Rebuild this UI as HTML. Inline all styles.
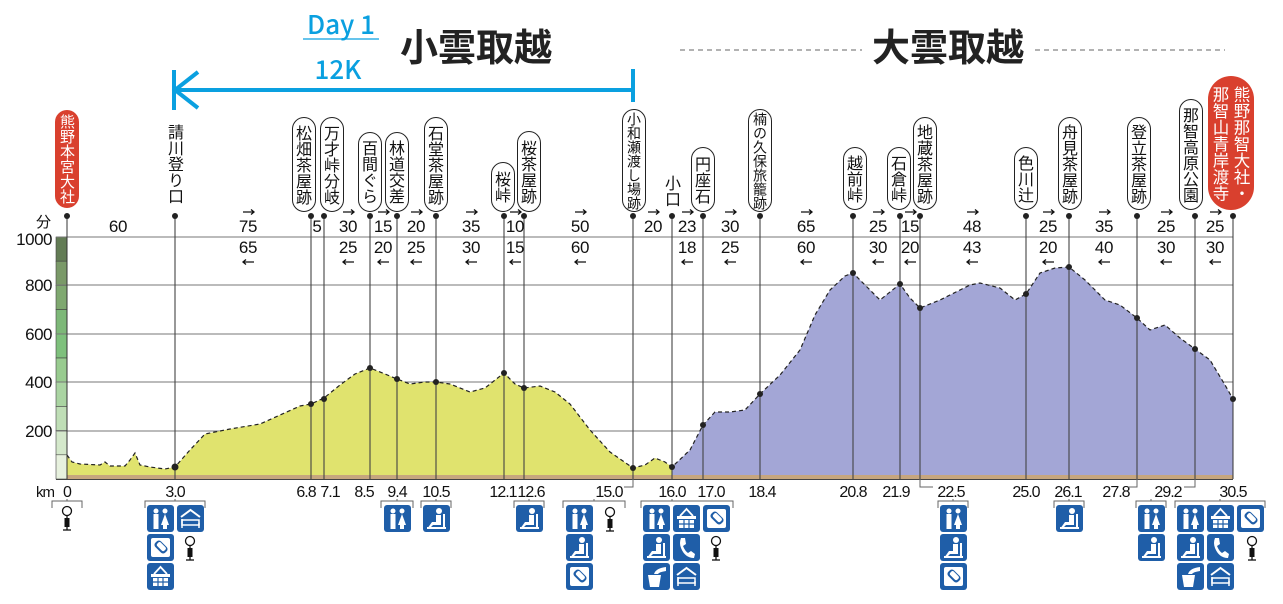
<!DOCTYPE html>
<html><head><meta charset="utf-8">
<style>
html,body{margin:0;padding:0;background:#fff}
#w{position:relative;width:1283px;height:604px;overflow:hidden;font-family:"Liberation Sans","Noto Sans CJK JP",sans-serif}
svg{position:absolute;left:0;top:0}
.p{position:absolute;writing-mode:vertical-rl;text-orientation:upright;border:1.3px solid #222;border-radius:12px;background:#fff;font-family:"Noto Sans CJK JP",sans-serif;font-size:16px;line-height:22px;width:24px;box-sizing:border-box;display:flex;align-items:center;justify-content:center;color:#111}
.r{background:#d9402e;border-color:#d9402e;color:#fff}
.t{position:absolute;writing-mode:vertical-rl;text-orientation:upright;font-family:"Noto Sans CJK JP",sans-serif;font-size:16px;line-height:22px;width:24px;color:#111;text-align:center}
.col{position:absolute;writing-mode:vertical-rl;text-orientation:upright;font-family:"Noto Sans CJK JP",sans-serif;font-size:16.5px;line-height:20px;color:#fff;width:20px}
</style></head><body><div id="w">
<svg width="1283" height="604" viewBox="0 0 1283 604" font-family="Liberation Sans, sans-serif">
<defs>
<g id="wc"><rect width="27" height="27" rx="3" fill="#1f5ea8"/><circle cx="9" cy="6" r="2.5" fill="#fff"/><circle cx="18" cy="6" r="2.5" fill="#fff"/><rect x="6.5" y="9" width="5" height="15" fill="#fff"/><path d="M18 9 L22 20 L14 20 Z" fill="#fff"/><rect x="16" y="19" width="4" height="5" fill="#fff"/></g>
<g id="bed"><rect width="27" height="27" rx="3" fill="#1f5ea8"/><path d="M4 12 L13.5 5 L23 12" stroke="#fff" stroke-width="2" fill="none"/><rect x="5" y="15" width="17" height="5" fill="none" stroke="#fff" stroke-width="1.5"/><line x1="5" y1="14" x2="5" y2="23" stroke="#fff" stroke-width="1.5"/><line x1="22" y1="18" x2="22" y2="23" stroke="#fff" stroke-width="1.5"/></g>
<g id="card"><rect width="27" height="27" rx="3" fill="#1f5ea8"/><rect x="4" y="4" width="19" height="19" rx="2" fill="#fff"/><rect x="7" y="9" width="14" height="8" rx="3" transform="rotate(45 14 13)" fill="#1f5ea8"/><rect x="9" y="10" width="10" height="5" rx="2" transform="rotate(45 14 13)" fill="#fff"/></g>
<g id="bask"><rect width="27" height="27" rx="3" fill="#1f5ea8"/><path d="M7 11 L13.5 4 L20 11" stroke="#fff" stroke-width="1.8" fill="none"/><rect x="4" y="11" width="19" height="3" fill="#fff"/><rect x="6" y="15" width="15" height="8" fill="#fff"/><path d="M11 15V23M16 15V23M6 19H21" stroke="#1f5ea8" stroke-width="1.2"/></g>
<g id="rest"><rect width="27" height="27" rx="3" fill="#1f5ea8"/><circle cx="16" cy="6" r="3" fill="#fff"/><path d="M13 10 H18 V20 H10 L6 24 H4 L9 17 H13 Z" fill="#fff"/><rect x="20" y="9" width="2" height="15" fill="#fff"/><rect x="4" y="22" width="19" height="2" fill="#fff"/></g>
<g id="tel"><rect width="27" height="27" rx="3" fill="#1f5ea8"/><path d="M8 4 L12 4 L13 10 L10 12 Q12 17 15 19 L18 17 L22 20 L21 24 Q12 24 8 14 Q6 9 8 4Z" fill="#fff"/></g>
<g id="wat"><rect width="27" height="27" rx="3" fill="#1f5ea8"/><path d="M5 12 H18 L16 24 H7 Z" fill="#fff"/><path d="M11 11 Q13 5 23 4 V8 Q16 9 15 11 Z" fill="#fff"/></g>
<g id="pole"><circle cx="6" cy="5" r="4.5" fill="#fff" stroke="#111" stroke-width="1.3"/><line x1="6" y1="9.5" x2="6" y2="24" stroke="#111" stroke-width="1.3"/><rect x="3.5" y="12" width="5" height="9" fill="#111"/><line x1="2" y1="24" x2="10" y2="24" stroke="#111" stroke-width="1.3"/></g>
</defs>

<text x="341" y="34" font-family="Noto Sans CJK JP, sans-serif" font-weight="500" font-size="26" fill="#0aa0e0" text-anchor="middle">Day 1</text>
<line x1="303" y1="39" x2="379" y2="39" stroke="#0aa0e0" stroke-width="1.2"/>
<text x="338" y="79" font-family="Noto Sans CJK JP, sans-serif" font-weight="500" font-size="26" fill="#0aa0e0" text-anchor="middle">12K</text>
<text x="476" y="61" font-family="Noto Sans CJK JP, sans-serif" font-weight="bold" font-size="38" fill="#222" text-anchor="middle">小雲取越</text>
<text x="948" y="61" font-family="Noto Sans CJK JP, sans-serif" font-weight="bold" font-size="38" fill="#222" text-anchor="middle">大雲取越</text>
<line x1="680" y1="50" x2="862" y2="50" stroke="#666" stroke-width="1" stroke-dasharray="5,4"/>
<line x1="1035" y1="50" x2="1225" y2="50" stroke="#666" stroke-width="1" stroke-dasharray="5,4"/>
<line x1="174" y1="90" x2="633" y2="90" stroke="#0aa0e0" stroke-width="4"/>
<line x1="633" y1="69" x2="633" y2="102" stroke="#0aa0e0" stroke-width="4"/>
<path d="M198 72 L175 90 L198 108" stroke="#0aa0e0" stroke-width="4" fill="none"/>
<line x1="174" y1="70" x2="174" y2="110" stroke="#0aa0e0" stroke-width="4"/>

<g stroke="#444" stroke-width="0.6">
<rect x="56" y="237" width="11" height="24.2" fill="#637c55"/>
<rect x="56" y="261.2" width="11" height="24.2" fill="#7a9968"/>
<rect x="56" y="285.4" width="11" height="24.2" fill="#7fa870"/>
<rect x="56" y="309.6" width="11" height="24.2" fill="#7db878"/>
<rect x="56" y="333.8" width="11" height="24.2" fill="#7ec07c"/>
<rect x="56" y="358" width="11" height="24.2" fill="#98cb8f"/>
<rect x="56" y="382.2" width="11" height="24.2" fill="#aad4a2"/>
<rect x="56" y="406.4" width="11" height="24.2" fill="#bfdeb6"/>
<rect x="56" y="430.6" width="11" height="24.2" fill="#d4e8cb"/>
<rect x="56" y="454.8" width="11" height="24.2" fill="#e7f1de"/>
</g>
<g stroke="#777" stroke-width="1">
<line x1="56" y1="237" x2="1233" y2="237"/>
<line x1="56" y1="285" x2="1233" y2="285"/>
<line x1="56" y1="334" x2="1233" y2="334"/>
<line x1="56" y1="382" x2="1233" y2="382"/>
<line x1="56" y1="431" x2="1233" y2="431"/>
</g>
<g font-size="17" fill="#111" text-anchor="end" letter-spacing="-0.5">
<text x="52" y="245">1000</text><text x="52" y="291">800</text><text x="52" y="340">600</text><text x="52" y="388">400</text><text x="52" y="437">200</text>
</g>
<text x="51" y="227" font-family="Noto Sans CJK JP, sans-serif" font-size="15" text-anchor="end" fill="#111">分</text>
<text x="54" y="497" font-size="15" text-anchor="end" fill="#111" letter-spacing="-1">km</text>

<polygon fill="#e0e36e" points="67,479 67,455 72,462 80,464 100,465 105,462 110,466 125,466 130,460 135,453 140,465 150,467 165,469 175,467 190,450 205,434 230,429 260,424 280,415 300,406 311,404 324,398 340,385 355,374 370,368 385,374 397,379 410,384 425,382 436,382 450,384 470,392 485,388 504,373 515,384 524,388 540,386 555,392 570,404 590,430 610,452 633,468 645,465 655,458 665,462 672,467 672,479"/>
<polygon fill="#a3a6d6" points="672,479 672,467 690,450 703,425 715,412 730,412 745,410 760,394 780,375 800,350 815,315 830,290 845,276 853,273 865,285 880,300 900,284 910,298 920,308 940,300 970,285 980,283 1000,288 1015,300 1026,294 1040,273 1055,268 1069,267 1085,280 1105,300 1120,305 1137,318 1150,330 1165,325 1180,338 1195,349 1210,360 1225,385 1233,399 1233,479"/>
<polyline fill="none" stroke="#222" stroke-width="1.2" stroke-dasharray="4,3" points="67,455 72,462 80,464 100,465 105,462 110,466 125,466 130,460 135,453 140,465 150,467 165,469 175,467 190,450 205,434 230,429 260,424 280,415 300,406 311,404 324,398 340,385 355,374 370,368 385,374 397,379 410,384 425,382 436,382 450,384 470,392 485,388 504,373 515,384 524,388 540,386 555,392 570,404 590,430 610,452 633,468 645,465 655,458 665,462 672,467 690,450 703,425 715,412 730,412 745,410 760,394 780,375 800,350 815,315 830,290 845,276 853,273 865,285 880,300 900,284 910,298 920,308 940,300 970,285 980,283 1000,288 1015,300 1026,294 1040,273 1055,268 1069,267 1085,280 1105,300 1120,305 1137,318 1150,330 1165,325 1180,338 1195,349 1210,360 1225,385 1233,399"/>
<rect x="67" y="475" width="1166" height="4" fill="#c6a67e"/>
<line x1="56" y1="479.5" x2="1233" y2="479.5" stroke="#444" stroke-width="1"/>
<line x1="67" y1="217" x2="67" y2="479" stroke="#333" stroke-width="1"/>
<line x1="1233" y1="217" x2="1233" y2="479" stroke="#333" stroke-width="1"/>

<g stroke="#444" stroke-width="1.1">
<line x1="175" y1="217" x2="175" y2="479"/><line x1="311" y1="217" x2="311" y2="479"/><line x1="324" y1="217" x2="324" y2="479"/><line x1="370" y1="217" x2="370" y2="479"/><line x1="397" y1="217" x2="397" y2="479"/><line x1="436" y1="217" x2="436" y2="479"/><line x1="504" y1="217" x2="504" y2="479"/><line x1="524" y1="217" x2="524" y2="479"/><line x1="633" y1="217" x2="633" y2="479"/><line x1="672" y1="217" x2="672" y2="479"/><line x1="703" y1="217" x2="703" y2="479"/><line x1="760" y1="217" x2="760" y2="479"/><line x1="853" y1="217" x2="853" y2="479"/><line x1="900" y1="217" x2="900" y2="479"/><line x1="920" y1="217" x2="920" y2="479"/><line x1="1026" y1="217" x2="1026" y2="479"/><line x1="1069" y1="217" x2="1069" y2="479"/><line x1="1137" y1="217" x2="1137" y2="479"/><line x1="1195" y1="217" x2="1195" y2="479"/>
</g>
<g fill="#222">
<circle cx="67" cy="216" r="3"/><circle cx="175" cy="216" r="3"/><circle cx="311" cy="216" r="3"/><circle cx="324" cy="216" r="3"/><circle cx="370" cy="216" r="3"/><circle cx="397" cy="216" r="3"/><circle cx="436" cy="216" r="3"/><circle cx="504" cy="216" r="3"/><circle cx="524" cy="216" r="3"/><circle cx="633" cy="216" r="3"/><circle cx="672" cy="216" r="3"/><circle cx="703" cy="216" r="3"/><circle cx="760" cy="216" r="3"/><circle cx="853" cy="216" r="3"/><circle cx="900" cy="216" r="3"/><circle cx="920" cy="216" r="3"/><circle cx="1026" cy="216" r="3"/><circle cx="1069" cy="216" r="3"/><circle cx="1137" cy="216" r="3"/><circle cx="1195" cy="216" r="3"/><circle cx="1233" cy="216" r="3"/>
<circle cx="175" cy="467" r="3.5"/><circle cx="311" cy="404" r="3"/><circle cx="324" cy="399" r="3"/><circle cx="370" cy="368" r="3"/><circle cx="397" cy="379" r="3"/><circle cx="436" cy="382" r="3"/><circle cx="504" cy="373" r="3"/><circle cx="524" cy="388" r="3"/><circle cx="633" cy="468" r="3"/><circle cx="672" cy="467" r="3"/><circle cx="703" cy="425" r="3"/><circle cx="760" cy="394" r="3"/><circle cx="853" cy="273" r="3"/><circle cx="900" cy="284" r="3"/><circle cx="920" cy="308" r="3"/><circle cx="1026" cy="294" r="3"/><circle cx="1069" cy="267" r="3"/><circle cx="1137" cy="318" r="3"/><circle cx="1195" cy="349" r="3"/><circle cx="1233" cy="399" r="3"/>
</g>

<g font-size="17" fill="#111" text-anchor="middle" letter-spacing="-0.3">
<text x="118" y="232">60</text><text x="248" y="232">75</text><text x="317" y="232">5</text><text x="348" y="232">30</text><text x="383" y="232">15</text><text x="416" y="232">20</text><text x="471" y="232">35</text><text x="515" y="232">10</text><text x="580" y="232">50</text><text x="653" y="232">20</text><text x="687" y="232">23</text><text x="730" y="232">30</text><text x="806" y="232">65</text><text x="878" y="232">25</text><text x="910" y="232">15</text><text x="972" y="232">48</text><text x="1048" y="232">25</text><text x="1104" y="232">35</text><text x="1166" y="232">25</text><text x="1215" y="232">25</text>
<text x="248" y="253">65</text><text x="348" y="253">25</text><text x="383" y="253">20</text><text x="416" y="253">25</text><text x="471" y="253">30</text><text x="515" y="253">15</text><text x="580" y="253">60</text><text x="687" y="253">18</text><text x="730" y="253">25</text><text x="806" y="253">60</text><text x="878" y="253">30</text><text x="910" y="253">20</text><text x="972" y="253">43</text><text x="1048" y="253">20</text><text x="1104" y="253">40</text><text x="1166" y="253">30</text><text x="1215" y="253">30</text>
</g>
<g stroke="#111" stroke-width="1.3" fill="none">
<g transform="translate(243,212)"><path d="M0 0H11M8-2.5L11 0L8 2.5"/></g>
<g transform="translate(343,212)"><path d="M0 0H11M8-2.5L11 0L8 2.5"/></g>
<g transform="translate(378,212)"><path d="M0 0H11M8-2.5L11 0L8 2.5"/></g>
<g transform="translate(411,212)"><path d="M0 0H11M8-2.5L11 0L8 2.5"/></g>
<g transform="translate(466,212)"><path d="M0 0H11M8-2.5L11 0L8 2.5"/></g>
<g transform="translate(510,212)"><path d="M0 0H11M8-2.5L11 0L8 2.5"/></g>
<g transform="translate(575,212)"><path d="M0 0H11M8-2.5L11 0L8 2.5"/></g>
<g transform="translate(648,212)"><path d="M0 0H11M8-2.5L11 0L8 2.5"/></g>
<g transform="translate(682,212)"><path d="M0 0H11M8-2.5L11 0L8 2.5"/></g>
<g transform="translate(725,212)"><path d="M0 0H11M8-2.5L11 0L8 2.5"/></g>
<g transform="translate(801,212)"><path d="M0 0H11M8-2.5L11 0L8 2.5"/></g>
<g transform="translate(873,212)"><path d="M0 0H11M8-2.5L11 0L8 2.5"/></g>
<g transform="translate(905,212)"><path d="M0 0H11M8-2.5L11 0L8 2.5"/></g>
<g transform="translate(967,212)"><path d="M0 0H11M8-2.5L11 0L8 2.5"/></g>
<g transform="translate(1043,212)"><path d="M0 0H11M8-2.5L11 0L8 2.5"/></g>
<g transform="translate(1099,212)"><path d="M0 0H11M8-2.5L11 0L8 2.5"/></g>
<g transform="translate(1161,212)"><path d="M0 0H11M8-2.5L11 0L8 2.5"/></g>
<g transform="translate(1210,212)"><path d="M0 0H11M8-2.5L11 0L8 2.5"/></g>
<g transform="translate(243,262)"><path d="M11 0H0M3-2.5L0 0L3 2.5"/></g>
<g transform="translate(343,262)"><path d="M11 0H0M3-2.5L0 0L3 2.5"/></g>
<g transform="translate(378,262)"><path d="M11 0H0M3-2.5L0 0L3 2.5"/></g>
<g transform="translate(411,262)"><path d="M11 0H0M3-2.5L0 0L3 2.5"/></g>
<g transform="translate(466,262)"><path d="M11 0H0M3-2.5L0 0L3 2.5"/></g>
<g transform="translate(510,262)"><path d="M11 0H0M3-2.5L0 0L3 2.5"/></g>
<g transform="translate(575,262)"><path d="M11 0H0M3-2.5L0 0L3 2.5"/></g>
<g transform="translate(682,262)"><path d="M11 0H0M3-2.5L0 0L3 2.5"/></g>
<g transform="translate(725,262)"><path d="M11 0H0M3-2.5L0 0L3 2.5"/></g>
<g transform="translate(801,262)"><path d="M11 0H0M3-2.5L0 0L3 2.5"/></g>
<g transform="translate(873,262)"><path d="M11 0H0M3-2.5L0 0L3 2.5"/></g>
<g transform="translate(905,262)"><path d="M11 0H0M3-2.5L0 0L3 2.5"/></g>
<g transform="translate(967,262)"><path d="M11 0H0M3-2.5L0 0L3 2.5"/></g>
<g transform="translate(1043,262)"><path d="M11 0H0M3-2.5L0 0L3 2.5"/></g>
<g transform="translate(1099,262)"><path d="M11 0H0M3-2.5L0 0L3 2.5"/></g>
<g transform="translate(1161,262)"><path d="M11 0H0M3-2.5L0 0L3 2.5"/></g>
<g transform="translate(1210,262)"><path d="M11 0H0M3-2.5L0 0L3 2.5"/></g>
</g>

<g font-size="16" fill="#111" text-anchor="middle" letter-spacing="-1">
<text x="67" y="497">0</text><text x="175" y="497">3.0</text><text x="306" y="497">6.8</text><text x="330" y="497">7.1</text><text x="364" y="497">8.5</text><text x="397" y="497">9.4</text><text x="436" y="497">10.5</text><text x="503" y="497">12.1</text><text x="531" y="497">12.6</text><text x="609" y="497">15.0</text><text x="672" y="497">16.0</text><text x="711" y="497">17.0</text><text x="762" y="497">18.4</text><text x="853" y="497">20.8</text><text x="896" y="497">21.9</text><text x="951" y="497">22.5</text><text x="1026" y="497">25.0</text><text x="1068" y="497">26.1</text><text x="1116" y="497">27.8</text><text x="1168" y="497">29.2</text><text x="1233" y="497">30.5</text>
</g>
<g stroke="#666" stroke-width="1" fill="none">
<path d="M624 487 H633 V479"/><path d="M920 479 V487 H933"/><path d="M1128 487 H1137 V479"/><path d="M1184 487 H1195 V479"/>
<path d="M52 508 V501 H82 V508 M67 501 V499"/>
<path d="M145 508 V501 H205 V508 M175 501 V499"/>
<path d="M381 508 V501 H413 V508 M397 501 V499"/>
<path d="M421 508 V501 H451 V508 M436 501 V499"/>
<path d="M514 508 V501 H544 V508 M529 501 V499"/>
<path d="M563 508 V501 H625 V508 M594 501 V499"/>
<path d="M641 508 V501 H733 V508 M672 501 V499"/>
<path d="M938 508 V501 H968 V508 M953 501 V499"/>
<path d="M1054 508 V501 H1084 V508 M1069 501 V499"/>
<path d="M1136 508 V501 H1166 V508 M1151 501 V499"/>
<path d="M1175 508 V501 H1265 V508 M1220 501 V499"/>
</g>
<use href="#pole" x="61" y="506"/>
<use href="#wc" x="147" y="505"/><use href="#bed" x="177" y="505"/><use href="#card" x="147" y="534"/><use href="#pole" x="184" y="536"/><use href="#bask" x="147" y="563"/>
<use href="#wc" x="384" y="505"/>
<use href="#rest" x="423" y="505"/>
<use href="#rest" x="516" y="505"/>
<use href="#wc" x="566" y="505"/><use href="#pole" x="604" y="507"/><use href="#rest" x="566" y="534"/><use href="#card" x="566" y="563"/>
<use href="#wc" x="643" y="505"/><use href="#bask" x="673" y="505"/><use href="#card" x="703" y="505"/><use href="#rest" x="643" y="534"/><use href="#tel" x="673" y="534"/><use href="#pole" x="710" y="536"/><use href="#wat" x="643" y="563"/><use href="#bed" x="673" y="563"/>
<use href="#wc" x="940" y="505"/><use href="#rest" x="940" y="534"/><use href="#card" x="940" y="563"/>
<use href="#rest" x="1056" y="505"/>
<use href="#wc" x="1138" y="505"/><use href="#rest" x="1138" y="534"/>
<use href="#wc" x="1177" y="505"/><use href="#bask" x="1207" y="505"/><use href="#card" x="1237" y="505"/><use href="#rest" x="1177" y="534"/><use href="#tel" x="1207" y="534"/><use href="#pole" x="1246" y="536"/><use href="#wat" x="1177" y="563"/><use href="#bed" x="1207" y="563"/>
</svg>

<div class="p r" style="left:55px;top:110px;height:98px;font-size:15px">熊野本宮大社</div>
<div class="t" style="left:163px;top:124px;font-size:16px">請川登り口</div>
<div class="p" style="left:292px;top:117px;height:95px">松畑茶屋跡</div>
<div class="p" style="left:320px;top:117px;height:95px">万才峠分岐</div>
<div class="p" style="left:358px;top:132px;height:80px">百間ぐら</div>
<div class="p" style="left:385px;top:132px;height:80px">林道交差</div>
<div class="p" style="left:424px;top:117px;height:95px">石堂茶屋跡</div>
<div class="p" style="left:491px;top:162px;height:50px">桜峠</div>
<div class="p" style="left:517px;top:131px;height:81px">桜茶屋跡</div>
<div class="p" style="left:622px;top:109px;height:103px;font-size:14px">小和瀬渡し場跡</div>
<div class="t" style="left:660px;top:175px;font-size:16px">小口</div>
<div class="p" style="left:691px;top:147px;height:65px">円座石</div>
<div class="p" style="left:748px;top:109px;height:103px;font-size:14px">楠の久保旅籠跡</div>
<div class="p" style="left:843px;top:147px;height:63px">越前峠</div>
<div class="p" style="left:887px;top:147px;height:63px">石倉峠</div>
<div class="p" style="left:913px;top:117px;height:93px">地蔵茶屋跡</div>
<div class="p" style="left:1014px;top:147px;height:63px">色川辻</div>
<div class="p" style="left:1058px;top:117px;height:93px">舟見茶屋跡</div>
<div class="p" style="left:1127px;top:117px;height:93px">登立茶屋跡</div>
<div class="p" style="left:1179px;top:99px;height:111px">那智高原公園</div>
<div style="position:absolute;left:1208px;top:76px;width:46px;height:134px;border-radius:23px;background:#d9402e"></div>
<div class="col" style="left:1232px;top:86px">熊野那智大社・</div>
<div class="col" style="left:1211px;top:86px">那智山青岸渡寺</div>
</div></body></html>
